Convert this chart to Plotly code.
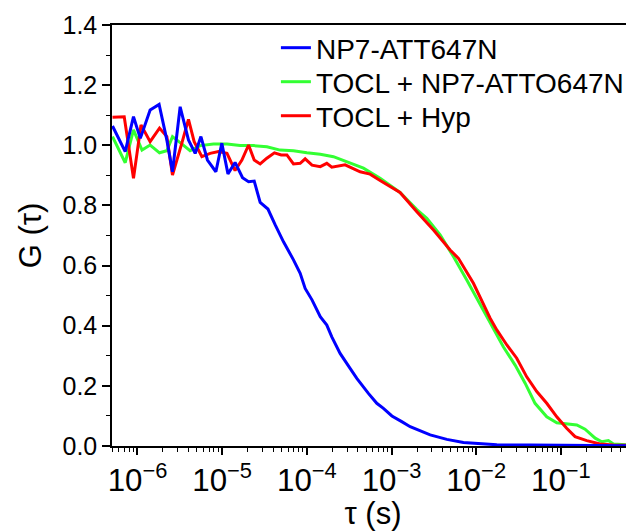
import math
import plotly.graph_objects as go

# ---- data ----
tau_blue = [5.07e-7, 7.16e-7, 8.97e-7, 1.08e-6, 1.41e-6, 1.80e-6, 2.22e-6, 2.59e-6, 3.19e-6, 4.00e-6,
            4.80e-6, 5.61e-6, 6.70e-6, 8.43e-6, 9.91e-6, 1.17e-5, 1.42e-5, 1.74e-5, 2.05e-5, 2.39e-5,
            2.81e-5, 3.47e-5, 4.23e-5, 5.30e-5, 6.95e-5, 8.34e-5, 9.55e-5, 1.15e-4, 1.44e-4, 1.72e-4,
            1.97e-4, 2.47e-4, 3.24e-4, 3.89e-4, 5.33e-4, 6.70e-4, 8.02e-4, 1.01e-3, 1.32e-3, 1.66e-3,
            2.86e-3, 4.50e-3, 7.06e-3, 1.11e-2, 1.75e-2, 4.33e-2, 0.169, 0.73]
g_blue = [1.064, 0.979, 1.095, 1.023, 1.117, 1.136, 1.018, 0.912, 1.128, 1.018,
          0.973, 1.029, 0.951, 0.912, 1.007, 0.905, 0.943, 0.892, 0.879, 0.881,
          0.810, 0.788, 0.735, 0.679, 0.619, 0.574, 0.524, 0.486, 0.430, 0.402,
          0.363, 0.308, 0.258, 0.225, 0.175, 0.142, 0.125, 0.100, 0.081, 0.064,
          0.037, 0.022, 0.012, 0.007, 0.004, 0.003, 0.002, 0.001]

tau_green = [5.07e-7, 7.16e-7, 8.97e-7, 1.13e-6, 1.41e-6, 1.82e-6, 2.22e-6, 2.59e-6, 3.19e-6, 4.18e-6,
             5.50e-6, 7.89e-6, 1.14e-5, 1.63e-5, 2.34e-5, 3.37e-5, 4.84e-5, 6.95e-5, 1.0e-4, 1.44e-4,
             2.06e-4, 2.96e-4, 4.66e-4, 7.33e-4, 1.26e-3, 1.99e-3, 2.61e-3, 3.75e-3, 5.38e-3, 7.74e-3,
             1.11e-2, 1.46e-2, 2.09e-2, 2.88e-2, 3.78e-2, 4.95e-2, 6.81e-2, 8.94e-2, 0.117, 0.154,
             0.193, 0.254, 0.304, 0.364, 0.417, 0.718]
g_green = [1.029, 0.942, 1.051, 0.984, 1.001, 0.975, 0.982, 1.029, 1.009, 0.982,
           0.999, 1.004, 1.004, 0.999, 0.999, 0.995, 0.984, 0.982, 0.975, 0.970,
           0.962, 0.946, 0.924, 0.890, 0.843, 0.786, 0.757, 0.702, 0.630, 0.552,
           0.472, 0.408, 0.330, 0.269, 0.209, 0.142, 0.097, 0.077, 0.073, 0.070,
           0.056, 0.026, 0.014, 0.018, 0.007, 0.003]

tau_red = [5.07e-7, 6.97e-7, 8.97e-7, 1.10e-6, 1.41e-6, 1.82e-6, 2.22e-6, 2.59e-6, 3.34e-6, 4.00e-6,
           4.67e-6, 5.76e-6, 7.21e-6, 9.04e-6, 1.14e-5, 1.42e-5, 1.71e-5, 2.05e-5, 2.39e-5, 2.81e-5,
           3.37e-5, 4.14e-5, 4.98e-5, 5.81e-5, 6.95e-5, 8.34e-5, 9.55e-5, 1.15e-4, 1.44e-4, 1.72e-4,
           1.97e-4, 2.83e-4, 4.26e-4, 5.58e-4, 7.33e-4, 9.62e-4, 1.26e-3, 1.99e-3, 3.13e-3, 4.92e-3,
           6.17e-3, 9.27e-3, 1.46e-2, 1.75e-2, 2.30e-2, 3.01e-2, 3.95e-2, 5.19e-2, 6.81e-2, 8.94e-2,
           0.117, 0.147, 0.202, 0.290, 0.417, 0.718]
g_red = [1.093, 1.095, 0.890, 1.068, 1.012, 1.057, 1.029, 0.901, 1.007, 1.086,
         1.012, 0.962, 0.973, 0.979, 0.973, 0.916, 0.951, 1.001, 0.951, 0.938,
         0.957, 0.975, 0.968, 0.968, 0.938, 0.940, 0.955, 0.934, 0.929, 0.940,
         0.927, 0.935, 0.912, 0.904, 0.883, 0.862, 0.843, 0.779, 0.718, 0.652,
         0.624, 0.541, 0.425, 0.386, 0.336, 0.292, 0.230, 0.181, 0.142, 0.097,
         0.059, 0.031, 0.018, 0.007, 0.003, 0.002]

series_names = ["NP7-ATT647N", "TOCL + NP7-ATTO647N", "TOCL + Hyp"]
series_colors = ["#0000FF", "#33FF33", "#FF0000"]

x_range = [5.0e-7, 0.73]
y_range = [0, 1.4]

FONT = "Liberation Sans, Arial, sans-serif"
LW = 3

fig = go.Figure()
# drawing order: green, red, blue (blue on top); each entry in its own legend row
fig.add_trace(go.Scatter(x=tau_green, y=g_green, mode="lines", name=series_names[1],
                         line=dict(color=series_colors[1], width=LW), legend="legend2"))
fig.add_trace(go.Scatter(x=tau_red, y=g_red, mode="lines", name=series_names[2],
                         line=dict(color=series_colors[2], width=LW), legend="legend3"))
fig.add_trace(go.Scatter(x=tau_blue, y=g_blue, mode="lines", name=series_names[0],
                         line=dict(color=series_colors[0], width=LW), legend="legend"))

def leg(yc):
    return dict(x=0.314, y=yc, xanchor="left", yanchor="middle",
                bgcolor="rgba(0,0,0,0)", font=dict(size=28, family=FONT),
                itemwidth=30)

# the page body adds an 8px offset, so the figure is 8px smaller than the window
fig.update_layout(
    width=626, height=523,
    margin=dict(l=104, r=0, t=17, b=85, autoexpand=False),
    paper_bgcolor="white", plot_bgcolor="white",
    font=dict(family=FONT, color="black", size=24),
    showlegend=True,
    legend=leg(0.9454),
    legend2=leg(0.8646),
    legend3=leg(0.7838),
    xaxis=dict(
        type="log", range=[math.log10(x_range[0]), math.log10(x_range[1])],
        dtick=1, exponentformat="power", automargin=False,
        showline=True, linecolor="black", linewidth=1.5, mirror=True,
        ticks="outside", ticklen=7, tickwidth=1.5, tickcolor="black",
        minor=dict(ticks="outside", ticklen=4, tickwidth=1, tickcolor="black", showgrid=False),
        showgrid=False, zeroline=False,
        tickfont=dict(size=25, family=FONT),
        title=dict(text="τ (s)", font=dict(size=31, family=FONT), standoff=2),
    ),
    yaxis=dict(
        range=y_range, dtick=0.2, tickformat=".1f", automargin=False,
        showline=True, linecolor="black", linewidth=1.5, mirror=False,
        ticks="outside", ticklen=8, tickwidth=1.5, tickcolor="black",
        minor=dict(ticks="outside", ticklen=4, tickwidth=1, tickcolor="black", dtick=0.1, showgrid=False),
        showgrid=False, zeroline=False,
        tickfont=dict(size=25, family=FONT),
        title=dict(text="G (τ)", font=dict(size=31, family=FONT), standoff=12),
    ),
)

fig.write_html("out.html")
